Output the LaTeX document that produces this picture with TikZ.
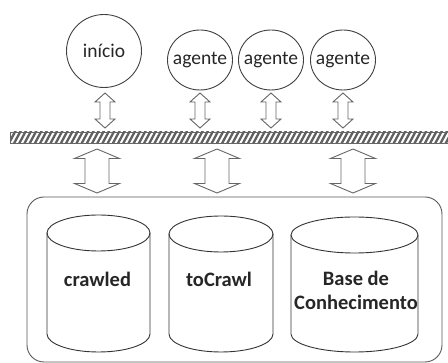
\documentclass[tikz,border=0pt]{standalone}
\usepackage{fontspec}
\setmainfont{Carlito}
\usetikzlibrary{shapes.geometric}
\newcommand\blockarrow[6]{%
  % #1 cx, #2 ytop, #3 ybot, #4 head half width, #5 shaft half width, #6 head height
  \draw[arrowline] (#1,#2) -- (#1+#4,#2+#6) -- (#1+#5,#2+#6) -- (#1+#5,#3-#6)
    -- (#1+#4,#3-#6) -- (#1,#3) -- (#1-#4,#3-#6) -- (#1-#5,#3-#6)
    -- (#1-#5,#2+#6) -- (#1-#4,#2+#6) -- cycle;}
\newcommand\dbcyl[5]{%
  % #1 cx, #2 rx, #3 ytop, #4 ybot, #5 ry
  \draw[cylline] (#1-#2,#3) -- (#1-#2,#4) arc[start angle=180,end angle=0,x radius=#2,y radius=#5] -- (#1+#2,#3);
  \draw[cylline] (#1,#3) ellipse[x radius=#2,y radius=#5];}
\begin{document}
\begin{tikzpicture}[x=1pt,y=-1pt,
  agentnode/.style={ellipse,draw=black!75,line width=0.9pt,inner sep=0pt,
    font=\fontsize{19.5}{23}\selectfont,text=black!85},
  arrowline/.style={draw=black!60,line width=0.9pt,line join=miter},
  cylline/.style={draw=black!80,line width=0.9pt},
  dblabel/.style={font=\fontsize{20.5}{24}\selectfont\bfseries,text=black!85,align=center},
  stripe/.style={draw=black!62,line width=2.3pt}]
\useasboundingbox (0,0) rectangle (448,363);

% top nodes
\node[agentnode,minimum width=75pt,minimum height=73pt] (inicio) at (104,51) {\makebox[0pt]{início}};
\node[agentnode,minimum width=65pt,minimum height=60pt] (ag1) at (200,60) {\makebox[0pt]{agente}};
\node[agentnode,minimum width=65pt,minimum height=60pt] (ag2) at (271,60) {\makebox[0pt]{agente}};
\node[agentnode,minimum width=65pt,minimum height=60pt] (ag3) at (343,60) {\makebox[0pt]{agente}};

% small arrows
\blockarrow{105}{93}{128}{10}{5}{9}
\blockarrow{200}{93}{128}{10}{5}{9}
\blockarrow{271}{93}{128}{10}{5}{9}
\blockarrow{343}{93}{128}{10}{5}{9}

% hatched bar
\begin{scope}
  \clip (10,132) rectangle (449,143);
  \foreach \i in {0,...,90} {
    \draw[stripe] (8+\i*5.2,145) -- (8+\i*5.2+8,130);
  }
\end{scope}
\draw[draw=black!60,line width=0.9pt] (10,132) rectangle (449,143);

% big arrows
\blockarrow{97}{149}{193}{22.5}{12}{9.5}
\blockarrow{217}{149}{193}{22.5}{12}{9.5}
\blockarrow{353}{149}{193}{22.5}{12}{9.5}

% container
\draw[draw=black!65,line width=0.9pt,rounded corners=17pt] (27,197) rectangle (442,362);

% cylinders
\dbcyl{98.5}{51.5}{233}{334}{18}
\dbcyl{221}{52}{234}{334}{18}
\dbcyl{354.5}{63.5}{235}{334}{18}

\node[dblabel] (crawled) at (97.5,279) {crawled};
\node[dblabel] (tocrawl) at (219,279) {toCrawl};
\node[dblabel] (base) at (356,290) {Base de\\Conhecimento};
\end{tikzpicture}
\end{document}
